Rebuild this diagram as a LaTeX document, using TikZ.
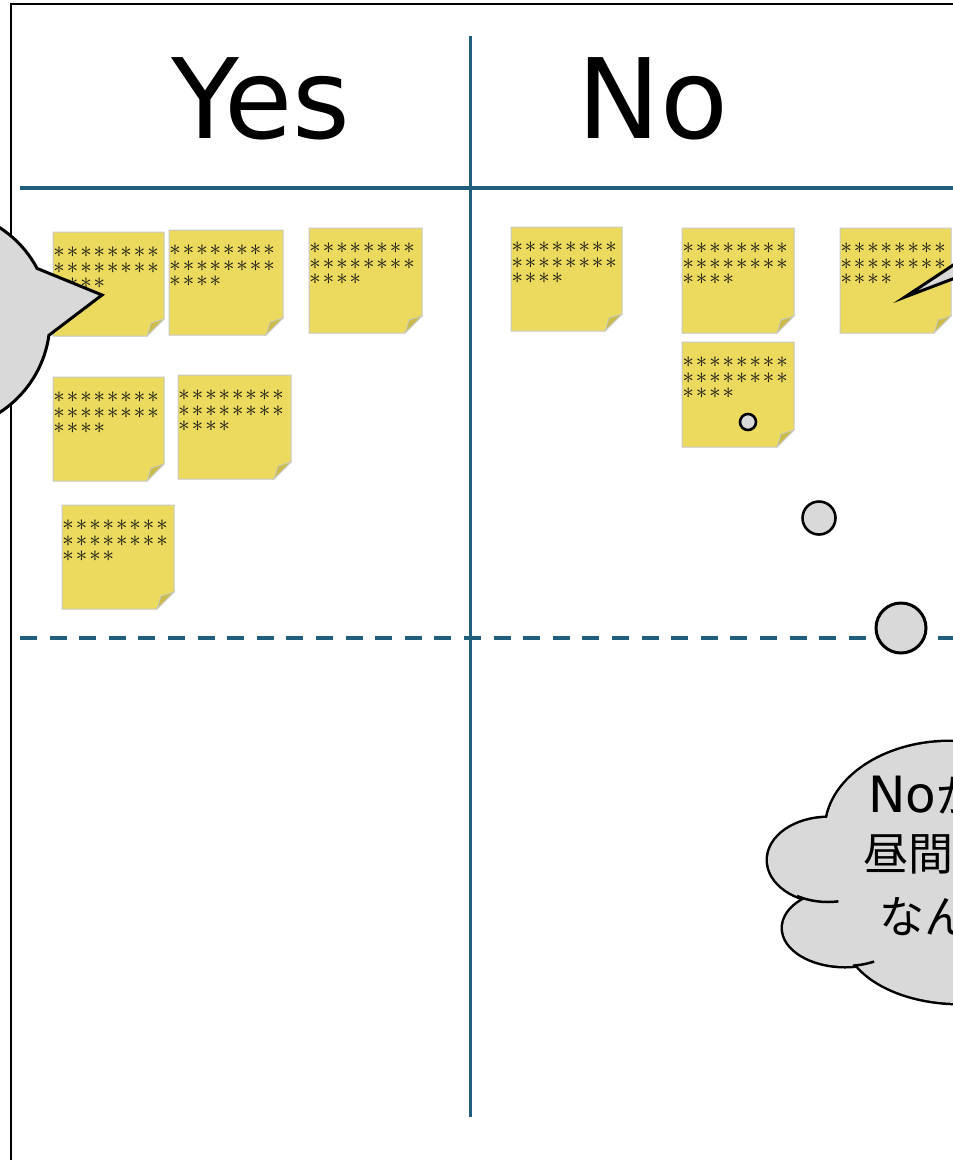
\documentclass[tikz,border=0pt]{standalone}
\usepackage{fontspec}
\usepackage{graphicx}
\setmainfont{DejaVu Sans}
\newfontfamily\jpfont{Noto Sans CJK JP}
\definecolor{lineblue}{RGB}{31,95,125}
\definecolor{noteyellow}{RGB}{235,218,94}
\definecolor{notefold}{RGB}{203,188,74}
\definecolor{noteedge}{RGB}{200,200,196}
\definecolor{bubblegray}{RGB}{217,217,217}
\definecolor{stardark}{RGB}{20,20,20}
\newcommand\onestar{\makebox[13.4pt]{\scalebox{1.1}{$\ast$}}}
\newcommand\starlines{\vtop{\baselineskip=15.5pt
  \hbox{\onestar\onestar\onestar\onestar\onestar\onestar\onestar\onestar}
  \hbox{\onestar\onestar\onestar\onestar\onestar\onestar\onestar\onestar}
  \hbox{\onestar\onestar\onestar\onestar}}}
\newcommand\stickynote[5]{%
  \filldraw[notebody] (#2,#3) -- (#4,#3) -- (#4,#5-17) -- (#4-17,#5) -- (#2,#5) -- cycle;
  \filldraw[notefoldstyle] (#4,#5-17) -- (#4-17,#5) -- (#4-13,#5-13) -- cycle;
  \node[starsnode] (#1) at (#2-0.7,#3+25.5) {\starlines};
}
\begin{document}
\begin{tikzpicture}[x=1pt,y=-1pt,
  blueline/.style={draw=lineblue,line width=3.5pt},
  notebody/.style={fill=noteyellow,draw=noteedge,line width=1pt},
  notefoldstyle/.style={fill=notefold,draw=noteedge,line width=0.8pt},
  starsnode/.style={anchor=base west,inner sep=0pt,text=stardark,font=\fontsize{20.74}{15.5}\selectfont},
  bubble/.style={fill=bubblegray,draw=black,line width=3pt,line join=miter},
  thought/.style={fill=bubblegray,draw=black,line width=2.6pt},
  headfont/.style={font=\fontsize{111}{111}\selectfont,inner sep=0pt,anchor=base},
  cloudtext/.style={inner sep=0pt,anchor=base west}]
\useasboundingbox (0,0) rectangle (953,1160);
\clip (0,0) rectangle (953,1160);
\fill[white] (0,0) rectangle (953,1160);
% frame
\draw[line width=2.5pt] (11,4) rectangle (1100,1300);
% grid lines
\coordinate (vtop) at (470,36);
\coordinate (vbot) at (470,1117);
\coordinate (hl) at (20,188);
\coordinate (hr) at (1000,188);
\coordinate (dl) at (20,638);
\coordinate (dr) at (1000,638);
\draw[blueline,line width=3pt] (vtop) -- (vbot);
\draw[blueline,line width=4pt] (hl) -- (hr);
\draw[blueline,dash pattern=on 17pt off 12.6pt] (dl) -- (dr);
% headings
\node[headfont] (yes) at (261,138) {Yes};
\node[headfont] (no) at (652.6,138) {No};
% sticky notes
\stickynote{n1}{53}{232}{164}{336}
\stickynote{n2}{169}{230}{283}{335}
\stickynote{n3}{309}{228}{422}{333}
\stickynote{n4}{53}{377}{164}{481}
\stickynote{n5}{178}{375}{291}{479}
\stickynote{n6}{62}{505}{174}{609}
\stickynote{n7}{511}{227}{622}{331}
\stickynote{n8}{682}{228}{794}{333}
\stickynote{n9}{682}{342}{794}{447}
\stickynote{n10}{840}{228}{951}{333}
% left speech bubble
\draw[bubble] (48.9,335.3) -- (102,295) -- (37.1,268.4) arc[start angle=-28,end angle=-352,radius=110] -- cycle;
% right speech bubble pointer
\draw[bubble] (1000,261) -- (905,297) -- (1000,234);
% thought circles
\node[thought,circle,minimum size=16pt,inner sep=0pt] (c1) at (748,422) {};
\node[thought,circle,minimum size=33pt,inner sep=0pt] (c2) at (819,518) {};
\node[thought,circle,minimum size=50pt,inner sep=0pt,line width=3pt] (c3) at (901,628) {};
% cloud
\begin{scope}
  \draw[line width=5pt] (950,830) ellipse[x radius=124,y radius=88];
  \draw[line width=5pt] (828,860) ellipse[x radius=60,y radius=42];
  \draw[line width=5pt] (845,928) ellipse[x radius=62,y radius=38];
  \draw[line width=5pt] (960,935) ellipse[x radius=115,y radius=68];
  \draw[line width=5pt] (1010,880) ellipse[x radius=100,y radius=100];
  \fill[bubblegray] (950,830) ellipse[x radius=124,y radius=88];
  \fill[bubblegray] (828,860) ellipse[x radius=60,y radius=42];
  \fill[bubblegray] (845,928) ellipse[x radius=62,y radius=38];
  \fill[bubblegray] (960,935) ellipse[x radius=115,y radius=68];
  \fill[bubblegray] (1010,880) ellipse[x radius=100,y radius=100];
  \draw[line width=2.5pt] (797.1,896) arc[start angle=121,end angle=80,x radius=60,y radius=42];
  \draw[line width=2.5pt] (853,965.7) arc[start angle=82.6,end angle=62,x radius=62,y radius=38];
\end{scope}
\node[cloudtext,font=\fontsize{50}{50}\selectfont] (t1) at (868,812) {No\jpfont\fontsize{45}{45}\selectfont が多い};
\node[cloudtext,font=\jpfont\fontsize{45}{45}\selectfont] (t2) at (863,870) {昼間は眠い};
\node[cloudtext,font=\jpfont\fontsize{45}{45}\selectfont] (t3) at (879,933) {なんで};
\end{tikzpicture}
\end{document}
